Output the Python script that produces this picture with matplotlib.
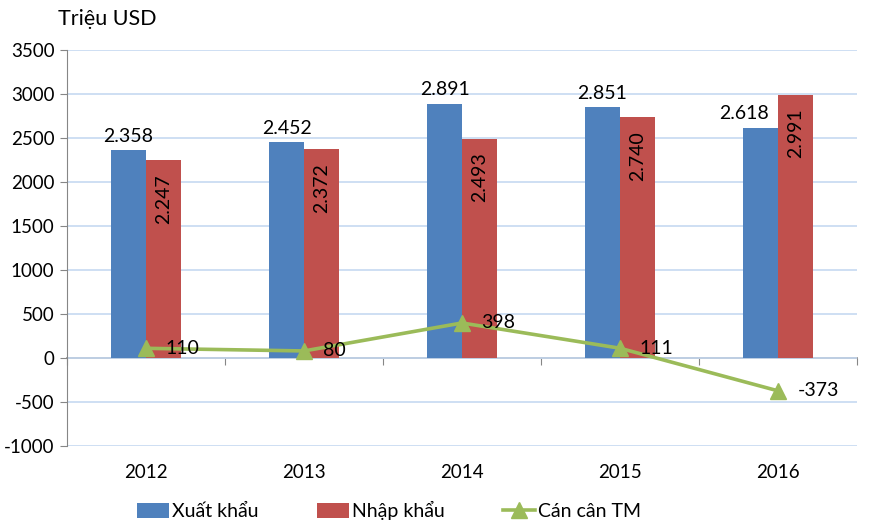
import numpy as np
import matplotlib
matplotlib.use('Agg')
import matplotlib.pyplot as plt

plt.rcParams['font.family'] = ['Lato', 'DejaVu Sans']
plt.rcParams['axes.unicode_minus'] = False

# data
years = ['2012', '2013', '2014', '2015', '2016']
xuat_khau = [2358, 2452, 2891, 2851, 2618]
nhap_khau = [2247, 2372, 2493, 2740, 2991]
can_can = [110, 80, 398, 111, -373]

c_blue = '#4F81BD'
c_red = '#C0504D'
c_green = '#9BBB59'
c_grid = '#C6D9F1'
c_axis = '#868686'

def fmt(v):
    return '{:,}'.format(v).replace(',', '.')

fig = plt.figure(figsize=(8.78, 5.30), dpi=100)
ax = fig.add_axes([0.0763, 0.1585, 0.8997, 0.7472])

x = np.arange(len(years))
w = 0.22
ymin, ymax = -1000, 3500

b1 = ax.bar(x - w / 2, xuat_khau, w, color=c_blue, label='Xuất khẩu', zorder=2)
b2 = ax.bar(x + w / 2, nhap_khau, w, color=c_red, label='Nhập khẩu', zorder=2)
ln, = ax.plot(x, can_can, color=c_green, lw=2.6, marker='^', markersize=12,
              label='Cán cân TM', zorder=4)

# labels
for xi, v, v2 in zip(x, xuat_khau, nhap_khau):
    dx = -12 if v2 > v else 0   # excel nudges the label away from the taller bar
    ax.annotate(fmt(v), (xi - w / 2, v), xytext=(dx, 4), textcoords='offset points',
                ha='center', va='bottom', fontsize=14)
for xi, v in zip(x, nhap_khau):
    ax.annotate(fmt(v), (xi + w / 2, v), xytext=(0, -10), textcoords='offset points',
                ha='center', va='top', rotation=90, fontsize=14)
for xi, v in zip(x, can_can):
    ax.annotate(fmt(v), (xi, v), xytext=(14, 0), textcoords='offset points',
                ha='left', va='center', fontsize=14, zorder=5)

ax.set_xlim(-0.5, len(years) - 0.5)
ax.set_ylim(ymin, ymax)
ax.set_yticks(np.arange(ymin, ymax + 1, 500))
ax.yaxis.grid(True, color=c_grid, lw=1.2, zorder=0)
ax.set_axisbelow(True)

for s in ['top', 'right', 'bottom']:
    ax.spines[s].set_visible(False)
ax.spines['left'].set_color(c_axis)
ax.tick_params(axis='y', colors=c_axis, labelcolor='black', labelsize=13.5,
               length=5, direction='out', pad=4)

ax.set_xticks(x)
ax.set_xticklabels(years)
ax.tick_params(axis='x', length=0, labelsize=13.5, pad=13)

# category axis crossing at zero
sec = ax.secondary_xaxis((0 - ymin) / (ymax - ymin))
sec.set_xticks(np.arange(-0.5, len(years), 1.0))
sec.set_xticklabels([])
sec.tick_params(axis='x', length=5, direction='out', colors=c_axis)
sec.spines['bottom'].set_color(c_axis)
sec.spines['bottom'].set_linewidth(1.2)

fig.text(0.066, 0.965, 'Triệu USD', fontsize=15.5, ha='left', va='center')

fig.legend(handles=[b1, b2, ln], loc='center', bbox_to_anchor=(0.443, 0.036),
           ncol=3, frameon=False, fontsize=14, columnspacing=3.0,
           handlelength=1.65, handletextpad=0.15, handleheight=0.8)

fig.savefig('out.png', dpi=100)
